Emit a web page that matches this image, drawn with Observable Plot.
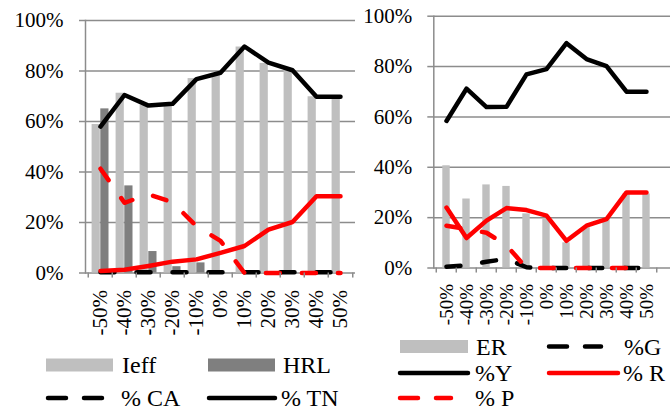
<!DOCTYPE html>
<html><head><meta charset="utf-8">
<script src="https://cdn.jsdelivr.net/npm/d3@7"></script>
<script src="https://cdn.jsdelivr.net/npm/@observablehq/plot@0.6"></script>
<style>
body{margin:0;background:#fff;}
#wrap{position:relative;width:670px;height:412px;overflow:hidden;font-family:"Liberation Serif","DejaVu Serif","Times New Roman",serif;background:#fff;}
#wrap svg{position:absolute;top:0;background:transparent;}
#wrap svg text{font-family:"Liberation Serif","DejaVu Serif","Times New Roman",serif !important;}
</style></head><body><div id="wrap"></div>
<script>
// ---- data ----
const categories = ["-50%","-40%","-30%","-20%","-10%","0%","10%","20%","30%","40%","50%"];
const yTicks = [0,20,40,60,80,100];
// left chart
const ieff = [58.8,71.2,66.5,66.8,77,79,89.5,83,80.5,69.8,69.8];
const hrl = [65,34.5,8.5,2.5,4,0,0,0,0,0,0];
const pctCA = [0.3,0.3,0.3,0.3,0.3,0.3,0.3,0.3,0.3,0.3,0.3];
const pctTN = [58,70.5,66.3,67,76.8,79.3,89.7,83.3,80.3,69.8,69.8];
const leftRedSolid = [0.8,1.3,2.8,4.5,5.4,8,10.7,17.2,20.2,30.4,30.4];
const leftRedDashed = [41.3,27.8,31.2,28,18.5,12.7,0,0,0,0,0];
// right chart
const er = [40.6,27.4,33,32.4,21.5,19.5,10,16,19.4,29.4,29.4];
const pctG = [0.5,1,2.5,3.6,0.3,0,0,0,0,0,0];
const pctY = [58.4,71.2,63.9,64,76.9,79,89.3,83,80.2,70,70];
const pctR = [24,11.9,18.8,23.8,23,20.8,10.8,16.8,19.4,30,30];
const pctP = [16.8,15.5,14,9,0,0,0,0,0,0,0];
const legendLeftLabels = ["Ieff","HRL","% CA","% TN"];
const legendRightLabels = ["ER","%G","%Y","% R","% P"];

// ---- styles ----
const GRID = "#8c8c8c", LIGHT = "#bfbfbf", DARK = "#7f7f7f", RED = "#ff0000", BLACK = "#000";
const LW = 4.5, DASH = "14,22";
const FONT = '"Liberation Serif","DejaVu Serif","Times New Roman",serif';

const rowsL = categories.map((c,i)=>({cat:c, ieff:ieff[i], hrl:hrl[i], ca:pctCA[i], tn:pctTN[i], rs:leftRedSolid[i], rd:leftRedDashed[i]}));
const rowsR = categories.map((c,i)=>({cat:c, er:er[i], g:pctG[i], y:pctY[i], r:pctR[i], p:pctP[i]}));

function lineOpts(x, y, stroke, dashed){
  const o = {x, y, stroke, strokeWidth: LW, strokeLinejoin:"round", strokeLinecap:"round"};
  if (dashed) o.strokeDasharray = DASH;
  return o;
}

function boundaryTicks(x0, x1){
  const bw = (x1 - x0) / categories.length;
  return [
    Plot.ruleX(categories, {x: d=>d, y1: 0, y2: -2, dx: -bw/2, stroke: GRID, strokeWidth: 1.5}),
    Plot.ruleX([categories[categories.length-1]], {x: d=>d, y1: 0, y2: -2, dx: bw/2, stroke: GRID, strokeWidth: 1.5})
  ];
}

const common = {
  style: {fontFamily: FONT, fontSize: "21px", color: "#000", background: "transparent", overflow: "visible"}
};

// ---- left chart ----
const lx0 = 85, lx1 = 354.3;
const left = Plot.plot({
  ...common,
  width: 358, height: 345,
  marginLeft: 85, marginRight: 3, marginTop: 20, marginBottom: 72.5,
  x: {type: "band", domain: categories, range: [lx0, lx1], padding: 0, axis: null},
  y: {domain: [0, 100], axis: null},
  marks: [
    Plot.ruleY(yTicks, {y: d=>d, stroke: GRID, strokeWidth: 1.5}),
    Plot.frame({anchor: "left", stroke: GRID, strokeWidth: 1.5}),
    Plot.barY(rowsL, {x: "cat", y: "ieff", fill: LIGHT, insetLeft: 3.6, insetRight: 12.2}),
    Plot.barY(rowsL, {x: "cat", y: "hrl", fill: DARK, insetLeft: 12.3, insetRight: 3.5}),
    Plot.lineY(rowsL, lineOpts("cat", "ca", BLACK, true)),
    Plot.lineY(rowsL, lineOpts("cat", "tn", BLACK, false)),
    Plot.lineY(rowsL, lineOpts("cat", "rs", RED, false)),
    Plot.lineY(rowsL, lineOpts("cat", "rd", RED, true)),
    ...boundaryTicks(lx0, lx1),
    Plot.axisY({ticks: yTicks, tickSize: 6, tickPadding: 16, stroke: GRID, strokeWidth: 1.5, tickFormat: d=>d+"%", fontSize: 21, label: null}),
    Plot.axisX({tickRotate: -90, tickSize: 0, tickPadding: 17, fontSize: 21, label: null})
  ]
});
left.style.left = "0px";

// ---- right chart ----
const rOff = 340;
const rx0 = 433.3 - rOff, rx1 = 658.3 - rOff;
const right = Plot.plot({
  ...common,
  width: 330, height: 340,
  marginLeft: rx0, marginRight: 0, marginTop: 15.7, marginBottom: 72.5,
  x: {type: "band", domain: categories, range: [rx0, rx1], padding: 0, axis: null},
  y: {domain: [0, 100], axis: null},
  marks: [
    Plot.ruleY(yTicks, {y: d=>d, stroke: GRID, strokeWidth: 1.5}),
    Plot.frame({anchor: "left", stroke: GRID, strokeWidth: 1.5}),
    Plot.barY(rowsR, {x: "cat", y: "er", fill: LIGHT, insetLeft: 6.3, insetRight: 6.3}),
    Plot.lineY(rowsR, lineOpts("cat", "g", BLACK, true)),
    Plot.lineY(rowsR, lineOpts("cat", "y", BLACK, false)),
    Plot.lineY(rowsR, lineOpts("cat", "r", RED, false)),
    Plot.lineY(rowsR, lineOpts("cat", "p", RED, true)),
    ...boundaryTicks(rx0, rx1),
    Plot.axisY({ticks: yTicks, tickSize: 6, tickPadding: 15.6, stroke: GRID, strokeWidth: 1.5, tickFormat: d=>d+"%", fontSize: 21, label: null}),
    Plot.axisX({tickRotate: -90, tickSize: 0, tickPadding: 16, fontSize: 19, label: null})
  ]
});
right.style.left = rOff + "px";

const wrap = document.getElementById("wrap");
wrap.appendChild(left);
wrap.appendChild(right);

// ---- legends ----
const legendLayout = [
  // left legend
  {kind:"bar", fill: LIGHT, x0:46, x1:113, y:365, tx:122},
  {kind:"bar", fill: DARK, x0:208, x1:275, y:365, tx:283},
  {kind:"line", stroke: BLACK, dash:true, x0:46, x1:113, y:398, tx:121},
  {kind:"line", stroke: BLACK, dash:false, x0:207, x1:277, y:398, tx:281},
  // right legend
  {kind:"bar", fill: LIGHT, x0:400, x1:468, y:346.5, tx:476},
  {kind:"line", stroke: BLACK, dash:true, x0:547, x1:603, y:346.5, tx:624},
  {kind:"line", stroke: BLACK, dash:false, x0:398, x1:470, y:373, tx:475},
  {kind:"line", stroke: RED, dash:false, x0:547, x1:620, y:373, tx:623},
  {kind:"line", stroke: RED, dash:true, x0:398, x1:453, y:398, tx:475}
];
const legendLabels = [...legendLeftLabels, ...legendRightLabels];
const lg = d3.create("svg").attr("width", 670).attr("height", 412).style("left","0px");
legendLayout.forEach((it, i) => {
  if (it.kind === "bar") {
    lg.append("rect").attr("x", it.x0).attr("y", it.y - 6.5).attr("width", it.x1 - it.x0).attr("height", 13).attr("fill", it.fill);
  } else {
    const l = lg.append("line").attr("x1", it.x0 + 2).attr("x2", it.x1 - 2).attr("y1", it.y).attr("y2", it.y)
      .attr("stroke", it.stroke).attr("stroke-width", LW).attr("stroke-linecap", "round");
    if (it.dash) l.attr("stroke-dasharray", "18,18");
  }
  lg.append("text").attr("x", it.tx).attr("y", it.y).attr("dy", "0.35em")
    .attr("font-family", FONT).attr("font-size", 24).attr("fill", "#000").text(legendLabels[i]);
});
wrap.appendChild(lg.node());
</script></body></html>
